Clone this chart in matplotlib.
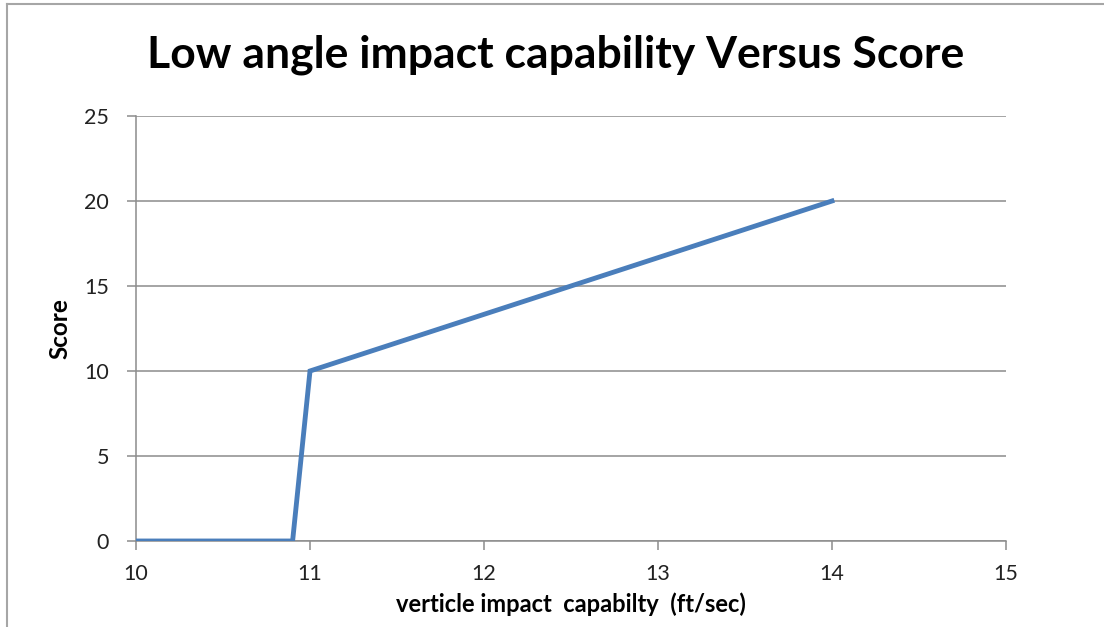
import matplotlib.pyplot as plt
from matplotlib.lines import Line2D

# impact capability (ft/sec) and resulting score
capability = [10, 10.9, 11, 14]
score = [0, 0, 10, 20]

x_ticks = [10, 11, 12, 13, 14, 15]
y_ticks = [0, 5, 10, 15, 20, 25]

plt.rcParams['font.family'] = ['Lato', 'DejaVu Sans']

fig = plt.figure(figsize=(11.04, 6.27), dpi=100)
ax = fig.add_axes([136/1104, 1 - 541/627, (1006 - 136)/1104, (541 - 116)/627])

ax.plot(capability, score, color='#4a7ebb', linewidth=3.5, solid_joinstyle='miter', zorder=3)

ax.set_xlim(10, 15)
ax.set_ylim(0, 25)
ax.set_xticks(x_ticks)
ax.set_yticks(y_ticks)
ax.yaxis.grid(True, color='#8c8c8c', linewidth=1.1)
ax.set_axisbelow(True)

for s in ['top', 'right']:
    ax.spines[s].set_visible(False)
for s in ['left', 'bottom']:
    ax.spines[s].set_color('#8c8c8c')
    ax.spines[s].set_linewidth(1.1)
ax.tick_params(axis='both', colors='#8c8c8c', length=6.5, width=1.1, labelsize=15.5,
               labelcolor='#222222')
ax.tick_params(axis='x', pad=10)
ax.tick_params(axis='y', pad=13)

ax.set_xlabel('verticle impact  capabilty  (ft/sec)', fontsize=17, fontweight='bold', labelpad=6)
ax.set_ylabel('Score', fontsize=17.5, fontweight='bold', labelpad=9)

fig.text(556/1104, 1 - 55/627, 'Low angle impact capability Versus Score',
         ha='center', va='center', fontsize=32, fontweight='bold')

# outer chart frame (left and top edges)
fig.add_artist(Line2D([6.5/1104, 6.5/1104], [0, 1 - 4/627], transform=fig.transFigure,
                      color='#a6a6a6', linewidth=1.5))
fig.add_artist(Line2D([6.5/1104, 1], [1 - 4/627, 1 - 4/627], transform=fig.transFigure,
                      color='#a6a6a6', linewidth=1.5))

fig.savefig('out.png', dpi=100)
